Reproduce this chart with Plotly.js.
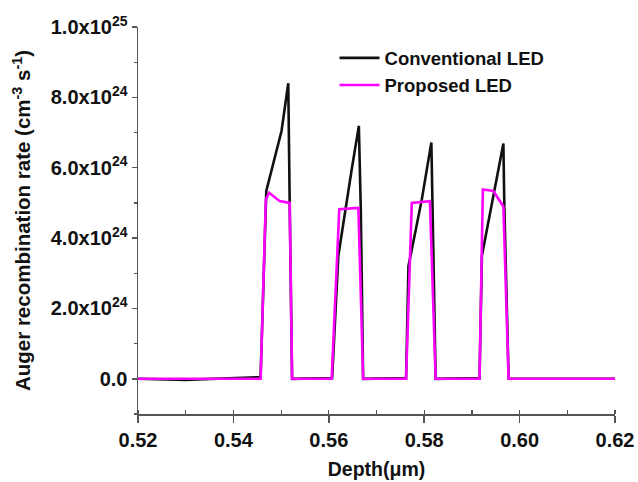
<!DOCTYPE html>
<html>
<head>
<meta charset="utf-8">
<script src="https://cdn.plot.ly/plotly-3.0.1.min.js"></script>
<style>
  html, body { margin: 0; padding: 0; background: #ffffff; }
  #chart { width: 638px; height: 482px; }
</style>
</head>
<body>
<div id="chart"></div>
<script>
// Depth (µm) and Auger recombination rate (cm^-3 s^-1) for the two structures
const convDepth = [0.52, 0.53, 0.5457, 0.5469, 0.5501, 0.5515, 0.5518, 0.5523,
                   0.5607, 0.5620, 0.5648, 0.5663, 0.5667, 0.5672,
                   0.5762, 0.5767, 0.5795, 0.5815, 0.5824,
                   0.5916, 0.5921, 0.5966, 0.5968, 0.5977, 0.62];
const convRate = [0, -0.03e24, 0.05e24, 5.34e24, 7.05e24, 8.40e24, 5.0e24, 0,
                  0.02e24, 3.5e24, 5.95e24, 7.19e24, 4.86e24, 0,
                  0.02e24, 3.2e24, 5.1e24, 6.72e24, 0,
                  0.02e24, 3.5e24, 6.69e24, 4.9e24, 0, 0];

const propDepth = [0.52, 0.5457, 0.5468, 0.5475, 0.5497, 0.5518, 0.5523,
                   0.5606, 0.5622, 0.5662, 0.5672,
                   0.5762, 0.5774, 0.5812, 0.5824,
                   0.5916, 0.5923, 0.5945, 0.5966, 0.5977, 0.62];
const propRate = [0, 0, 5.1e24, 5.29e24, 5.05e24, 5.0e24, 0,
                  0, 4.82e24, 4.86e24, 0,
                  0, 5.0e24, 5.05e24, 0,
                  0, 5.38e24, 5.34e24, 4.9e24, 0, 0];

const seriesNames = ['Conventional LED', 'Proposed LED'];

// y tick labels in scientific notation
const yTickVals = [0, 2e24, 4e24, 6e24, 8e24, 1e25];
const yTickText = ['0.0', '2.0x10<sup>24</sup>', '4.0x10<sup>24</sup>',
                   '6.0x10<sup>24</sup>', '8.0x10<sup>24</sup>', '1.0x10<sup>25</sup>'];

const FONT = 'Liberation Sans, Arial, sans-serif';
const AXIS_COLOR = '#555555';

const traces = [
  {
    x: convDepth, y: convRate, name: seriesNames[0],
    type: 'scatter', mode: 'lines',
    line: { color: '#111111', width: 2.6 }
  },
  {
    x: propDepth, y: propRate, name: seriesNames[1],
    type: 'scatter', mode: 'lines',
    line: { color: '#ff00ff', width: 2.6 }
  }
];

const layout = {
  width: 638, height: 482,
  margin: { l: 138, r: 23, t: 27, b: 68 },
  paper_bgcolor: '#ffffff', plot_bgcolor: '#ffffff',
  font: { family: FONT, color: '#111111' },
  showlegend: true,
  legend: {
    x: 0.412, y: 0.968, xanchor: 'left', yanchor: 'top',
    bgcolor: 'rgba(0,0,0,0)',
    font: { family: FONT, size: 18.5, weight: 'bold', color: '#111111' },
    itemwidth: 40, tracegroupgap: 0
  },
  xaxis: {
    range: [0.52, 0.62], dtick: 0.02, tick0: 0.52,
    tickformat: '.2f',
    showgrid: false, zeroline: false,
    showline: true, linecolor: AXIS_COLOR, linewidth: 1.5,
    ticks: 'outside', ticklen: 7, tickwidth: 1.5, tickcolor: AXIS_COLOR,
    minor: { dtick: 0.01, ticks: 'inside', ticklen: 4, tickwidth: 1.2, tickcolor: AXIS_COLOR },
    tickfont: { family: FONT, size: 20, weight: 'bold', color: '#111111' },
    title: { text: 'Depth(\u03bcm)', standoff: 13,
             font: { family: FONT, size: 19.5, weight: 'bold', color: '#111111' } }
  },
  yaxis: {
    range: [-1e24, 1e25],
    tickvals: yTickVals, ticktext: yTickText,
    showgrid: false, zeroline: false,
    showline: true, linecolor: AXIS_COLOR, linewidth: 1.5,
    ticks: 'outside', ticklen: 5, tickwidth: 1.5, tickcolor: AXIS_COLOR,
    minor: { tickvals: [-1e24, 1e24, 3e24, 5e24, 7e24, 9e24], ticks: 'outside',
             ticklen: 3, tickwidth: 1.2, tickcolor: AXIS_COLOR },
    tickfont: { family: FONT, size: 20, weight: 'bold', color: '#111111' },
    title: { text: 'Auger recombination rate (cm<sup>-3</sup> s<sup>-1</sup>)', standoff: 14,
             font: { family: FONT, size: 20.5, weight: 'bold', color: '#111111' } }
  },
  // top and right frame with inward ticks
  xaxis2: {
    overlaying: 'x', side: 'top', range: [0.52, 0.62],
    dtick: 0.01, tick0: 0.52, showticklabels: false,
    showgrid: false, zeroline: false,
    showline: true, linecolor: AXIS_COLOR, linewidth: 1.5,
    ticks: 'inside', ticklen: 4, tickwidth: 1.2, tickcolor: AXIS_COLOR
  },
  yaxis2: {
    overlaying: 'y', side: 'right', range: [-1e24, 1e25],
    tick0: 1e25 / 9, dtick: 2e25 / 9, showticklabels: false,
    showgrid: false, zeroline: false,
    showline: true, linecolor: AXIS_COLOR, linewidth: 1.5,
    ticks: 'inside', ticklen: 7, tickwidth: 1.5, tickcolor: AXIS_COLOR,
    minor: { dtick: 1e25 / 9, ticks: 'inside', ticklen: 4, tickwidth: 1.2, tickcolor: AXIS_COLOR }
  }
};

Plotly.newPlot('chart', traces, layout, { staticPlot: true, displayModeBar: false });
</script>
</body>
</html>
